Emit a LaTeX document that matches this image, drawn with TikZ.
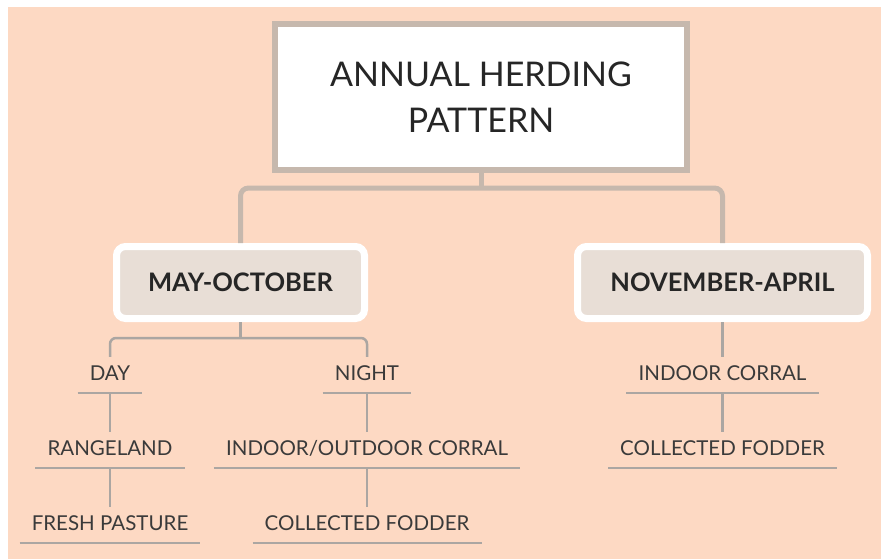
\documentclass[tikz,border=0pt]{standalone}
\usepackage{fontspec}
\setmainfont{Lato}
\definecolor{peach}{HTML}{FDD9C3}
\definecolor{frame}{HTML}{C6B8AD}
\definecolor{headfill}{HTML}{E8DED6}
\definecolor{twiggray}{HTML}{ABA6A2}
\definecolor{ink}{HTML}{3A3A3A}
\begin{document}
\begin{tikzpicture}
        [x=1pt, y=-1pt,
        title/.style={rectangle, draw=frame, fill=white, line width=6pt, minimum width=412pt, minimum height=146pt, align=center, font=\fontsize{34}{46}\selectfont, text=black!85},
        season/.style={rectangle, rounded corners=9pt, draw=white, fill=headfill, line width=7pt, minimum height=72pt, font=\fontsize{25.5}{30}\selectfont\bfseries, text=black!85},
        leaf/.style={anchor=base, inner xsep=12pt, inner ysep=9pt, text height=14pt, text depth=4pt, font=\fontsize{20.5}{22}\selectfont, text=ink},
        trunk/.style={draw=frame, line width=5pt, rounded corners=8pt},
        twig/.style={draw=twiggray, line width=2.5pt, rounded corners=6pt}]
        \useasboundingbox (0,0) rectangle (881,559);
        \fill[white] (0,0) rectangle (881,559);
        \fill[peach] (8,7) rectangle (881,559);

        \node[title] (T) at (481,97) {ANNUAL HERDING\\PATTERN};
        \node[season, minimum width=248pt] (MO) at (240.5,282.5) {MAY-OCTOBER};
        \node[season, minimum width=290pt] (NA) at (722.5,282.5) {NOVEMBER-APRIL};

        \node[leaf] (day) at (110,380) {DAY};
        \node[leaf] (night) at (367,380) {NIGHT};
        \node[leaf] (range) at (110,455) {RANGELAND};
        \node[leaf] (corral) at (367,455) {INDOOR/OUTDOOR CORRAL};
        \node[leaf] (fresh) at (110,530) {FRESH PASTURE};
        \node[leaf] (fodder) at (367,530) {COLLECTED FODDER};
        \node[leaf] (indoor) at (722.5,380) {INDOOR CORRAL};
        \node[leaf] (fodderW) at (722.5,455) {COLLECTED FODDER};

        \coordinate (J) at (481,188);
        \coordinate (M) at (240.5,338);

        \draw[trunk] (T.south) -- (J);
        \draw[trunk] (MO.north) |- (J) -| (NA.north);

        \draw[twig] (MO.south) -- (M);
        \draw[twig] (day.north) |- (M) -| (night.north);
        \draw[twig] (day.south) -- (range.north);
        \draw[twig] (range.south) -- (fresh.north);
        \draw[twig] (night.south) -- (corral.north);
        \draw[twig] (corral.south) -- (fodder.north);
        \draw[twig] (NA.south) -- (indoor.north);
        \draw[twig] (indoor.south) -- (fodderW.north);

        % underlines
        \foreach \n in {day, night, range, corral, fresh, fodder, indoor, fodderW}
            \draw[twiggray, line width=2.5pt] (\n.south west) -- (\n.south east);
\end{tikzpicture}
\end{document}
